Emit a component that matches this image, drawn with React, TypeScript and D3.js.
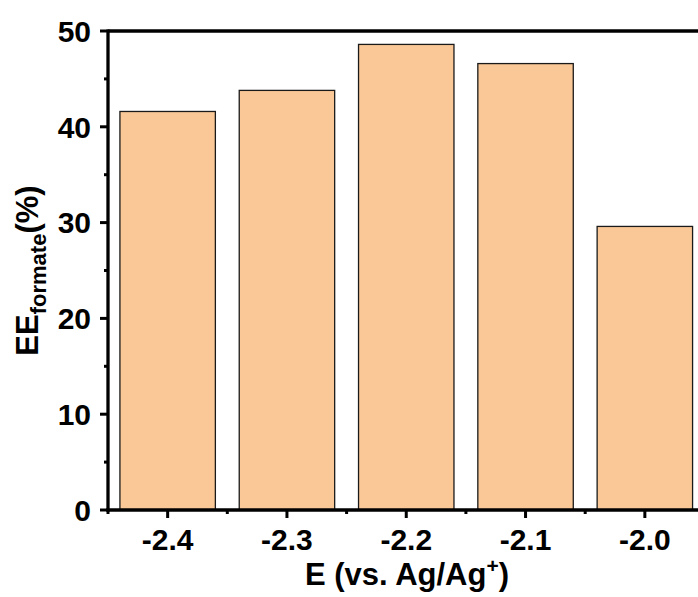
import React from "react";
import * as d3 from "d3";

const categories = [-2.4, -2.3, -2.2, -2.1, -2.0];
const categoryLabels = ["-2.4", "-2.3", "-2.2", "-2.1", "-2.0"];
const values = [41.6, 43.8, 48.6, 46.6, 29.6];
const yTicks = [0, 10, 20, 30, 40, 50];
const yMinorTicks = [5, 15, 25, 35, 45];
const xMinorTicks = [-2.45, -2.35, -2.25, -2.15, -2.05];

const W = 698;
const H = 597;
const left = 108;
const top = 31;
const bottom = 510;
const step = 119.3;

export default function App() {
  const x = d3.scaleLinear().domain([-2.45, -1.95]).range([left, left + 5 * step]);
  const y = d3.scaleLinear().domain([0, 50]).range([bottom, top]);
  const bw = 0.8 * step;
  const font = "Arial, 'Liberation Sans', sans-serif";

  return (
    <svg width={W} height={H} style={{ position: "absolute", left: 0, top: 0, background: "#fff" }} fontFamily={font}>
      {categories.map((c, i) => (
        <rect
          key={i}
          x={x(c) - bw / 2}
          y={y(values[i])}
          width={bw}
          height={y(0) - y(values[i])}
          fill="#FAC897"
          stroke="#1a1a1a"
          strokeWidth={1.3}
        />
      ))}
      {/* axes */}
      <line x1={left} x2={W} y1={top} y2={top} stroke="#000" strokeWidth={3.3} />
      <line x1={left} x2={left} y1={top - 1.6} y2={bottom + 1.6} stroke="#000" strokeWidth={3.3} />
      <line x1={left - 1.6} x2={W} y1={bottom} y2={bottom} stroke="#000" strokeWidth={3.3} />
      {yTicks.map((t) => (
        <g key={t}>
          <line x1={left - 8} x2={left} y1={y(t)} y2={y(t)} stroke="#000" strokeWidth={3} />
          <text x={91} y={y(t)} dy="0.36em" textAnchor="end" fontSize={30} fontWeight="bold">{t}</text>
        </g>
      ))}
      {yMinorTicks.map((t) => (
        <line key={t} x1={left - 4} x2={left} y1={y(t)} y2={y(t)} stroke="#000" strokeWidth={3} />
      ))}
      {categories.map((c, i) => (
        <g key={i}>
          <line x1={x(c)} x2={x(c)} y1={bottom} y2={bottom + 8} stroke="#000" strokeWidth={3} />
          <text x={x(c)} y={550} textAnchor="middle" fontSize={30} fontWeight="bold">{categoryLabels[i]}</text>
        </g>
      ))}
      {xMinorTicks.map((t) => (
        <line key={t} x1={x(t)} x2={x(t)} y1={bottom} y2={bottom + 4} stroke="#000" strokeWidth={3} />
      ))}
      <text x={407} y={585} textAnchor="middle" fontSize={31} fontWeight="bold">
        E (vs. Ag/Ag<tspan fontSize={21} dy={-12}>+</tspan><tspan dy={12}>)</tspan>
      </text>
      <text transform={`translate(38,${(top + bottom) / 2}) rotate(-90)`} textAnchor="middle" fontSize={31} fontWeight="bold">
        EE<tspan fontSize={22} dy={8}>formate</tspan><tspan dy={-8}>(%)</tspan>
      </text>
    </svg>
  );
}
